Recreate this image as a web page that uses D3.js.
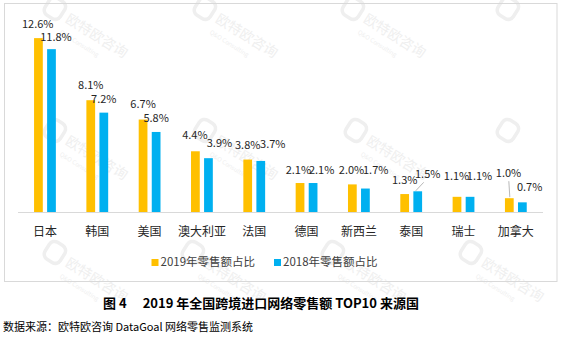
<!DOCTYPE html>
<html><head><meta charset="utf-8">
<script src="https://cdn.jsdelivr.net/npm/d3@7"></script>
<style>
html,body{margin:0;padding:0;background:#fff;}
svg{display:block;font-family:"Microsoft YaHei","Noto Sans CJK SC","Noto Sans",sans-serif;}
</style></head>
<body>
<svg id="chart" width="561" height="341"></svg>
<script>
// ---- data ----
const categories = ["日本","韩国","美国","澳大利亚","法国","德国","新西兰","泰国","瑞士","加拿大"];
const seriesNames = ["2019年零售额占比","2018年零售额占比"];
const values2019 = [12.6, 8.1, 6.7, 4.4, 3.8, 2.1, 2.0, 1.3, 1.1, 1.0];
const values2018 = [11.8, 7.2, 5.8, 3.9, 3.7, 2.1, 1.7, 1.5, 1.1, 0.7];
const colors = ["#FFC000", "#00B0F0"];
const titleText = "图 4\u3000 2019 年全国跨境进口网络零售额 TOP10 来源国";
const sourceText = "数据来源：欧特欧咨询 DataGoal 网络零售监测系统";

// ---- layout: label nudges (Excel-style placement), px ----
const labelDx2019 = [-0.7, 0, 0, -0.5, 0, -1.7, -0.8, 0, -0.5, -0.8];
const labelDy2019 = [-13.3, -14, -14.3, -15, -14, -12, -13.3, -13, -19.7, -24];
const labelDx2018 = [4.5, 0, 0, 11, 12, 8.5, 10.3, 10, 9.5, 7.3];
const labelDy2018 = [-11, -12.7, -13.2, -14, -15.7, -12, -17.6, -16, -19.7, -14.7];

const svg = d3.select("#chart");

// watermark (faint)
const wmRows = [
  {y: 14, xs: [62, 212, 360, 515]},
  {y: 136, xs: [62, 212, 363, 515]},
  {y: 258, xs: [62, 200, 340, 478]}
];
const wm = svg.append("g").attr("fill", "#efefef").attr("pointer-events", "none");
wmRows.forEach(r => r.xs.forEach((x, k) => {
  const g = wm.append("g").attr("transform", `translate(${x},${r.y}) rotate(32)`);
  g.append("rect").attr("x", -18).attr("y", -11).attr("width", 18).attr("height", 20)
    .attr("rx", 6).attr("fill", "none").attr("stroke", "#efefef").attr("stroke-width", 3.5);
  if (x < 500) {
    g.append("text").attr("x", 6).attr("y", 5).attr("font-size", 14).text("欧特欧咨询");
    g.append("text").attr("x", 8).attr("y", 18).attr("font-size", 6).text("Q&O Consulting");
  }
}));

// frame
svg.append("rect").attr("x", 4.5).attr("y", 3.5).attr("width", 552.5).attr("height", 278)
  .attr("fill", "none").attr("stroke", "#d9d9d9").attr("stroke-width", 1);

const x0 = d3.scaleBand().domain(categories).range([18.8, 542]).padding(0);
const bw = x0.bandwidth();
const x1 = d3.scaleBand().domain(seriesNames).range([bw/2 - 10.9, bw/2 + 10.9]).paddingInner(0.33);
const y = d3.scaleLinear().domain([0, 14]).range([212, 212 - 14*13.8]);

// baseline axis
svg.append("line").attr("x1", 18).attr("x2", 543).attr("y1", 212.5).attr("y2", 212.5)
  .attr("stroke", "#d9d9d9").attr("stroke-width", 1);

const xAxis = d3.axisBottom(x0).tickSize(0).tickPadding(0);
const ax = svg.append("g").attr("transform", "translate(0,212)").call(xAxis);
ax.select(".domain").remove();
ax.selectAll("text").attr("font-size", 12).attr("fill", "#262626")
  .attr("dy", null).attr("y", 20.3).attr("dominant-baseline", "middle")
  .style("font-family", '"Microsoft YaHei","Noto Sans CJK SC",sans-serif');

const allVals = [values2019, values2018];
const dxs = [labelDx2019, labelDx2018];
const dys = [labelDy2019, labelDy2018];

seriesNames.forEach((s, si) => {
  const g = svg.append("g");
  g.selectAll("rect").data(categories).join("rect")
    .attr("x", (c) => x0(c) + x1(s))
    .attr("width", x1.bandwidth())
    .attr("y", (c, i) => y(allVals[si][i]))
    .attr("height", (c, i) => y(0) - y(allVals[si][i]))
    .attr("fill", colors[si]);
  g.selectAll("text").data(categories).join("text")
    .attr("x", (c, i) => x0(c) + x1(s) + x1.bandwidth()/2 + dxs[si][i])
    .attr("y", (c, i) => y(allVals[si][i]) + dys[si][i])
    .attr("dominant-baseline", "middle")
    .attr("text-anchor", "middle")
    .attr("font-size", 11)
    .attr("fill", "#262626")
    .text((c, i) => allVals[si][i].toFixed(1) + "%");
});

// leader lines
const cx = (ci, si) => x0(categories[ci]) + x1(seriesNames[si]) + x1.bandwidth()/2;
svg.append("line").attr("x1", cx(9,0) - 0.5).attr("y1", y(values2019[9]) - 17)
  .attr("x2", cx(9,0) + 0.5).attr("y2", y(values2019[9]) - 1)
  .attr("stroke", "#a6a6a6").attr("stroke-width", 0.8);
svg.append("line").attr("x1", cx(7,1) - 2).attr("y1", y(values2018[7]) - 0.5)
  .attr("x2", cx(7,1) + 6).attr("y2", y(values2018[7]) - 9)
  .attr("stroke", "#a6a6a6").attr("stroke-width", 0.8);

// legend
const legend = svg.append("g").attr("transform", "translate(0,262.5)");
const legX = [151.5, 274];
seriesNames.forEach((s, i) => {
  legend.append("rect").attr("x", legX[i]).attr("y", -3.5).attr("width", 7).attr("height", 7).attr("fill", colors[i]);
  legend.append("text").attr("x", legX[i] + 9).attr("y", 0).attr("dominant-baseline", "middle")
    .attr("font-size", 11.5).attr("fill", "#404040").text(s);
});

// title & source
svg.append("text").attr("x", 261).attr("y", 304).attr("text-anchor", "middle")
  .attr("dominant-baseline", "middle").attr("font-size", 13).attr("font-weight", "bold")
  .attr("fill", "#000").text(titleText);
svg.append("text").attr("x", 3).attr("y", 328).attr("dominant-baseline", "middle")
  .attr("font-size", 11).attr("fill", "#000").text(sourceText);
</script>
</body></html>
